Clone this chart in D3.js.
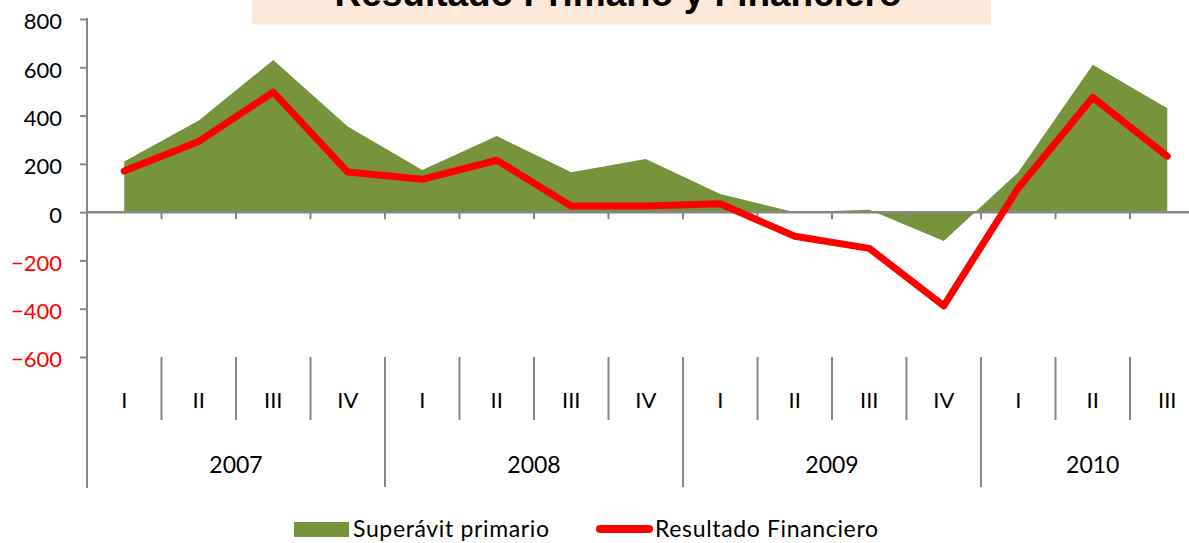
<!DOCTYPE html>
<html><head><meta charset="utf-8">
<script src="https://cdn.jsdelivr.net/npm/d3@7/dist/d3.min.js"></script>
<style>
html,body{margin:0;padding:0;background:#fff;overflow:hidden}
svg{display:block}
</style></head>
<body>
<svg id="c" width="1189" height="543"></svg>
<script>
const title = "Resultado  Primario y Financiero";
const years = ["2007","2008","2009","2010"];
const quarters = ["I","II","III","IV","I","II","III","IV","I","II","III","IV","I","II","III"];
const yearOfPoint = ["2007","2007","2007","2007","2008","2008","2008","2008","2009","2009","2009","2009","2010","2010","2010"];
const superavitPrimario = [210, 380, 630, 355, 175, 315, 165, 220, 75, 0, 10, -120, 165, 610, 430];
const resultadoFinanciero = [170, 293, 497, 166, 136, 215, 25, 25, 35, -100, -150, -388, 100, 475, 232];
const yTicks = [800, 600, 400, 200, 0, -200, -400, -600];
const seriesNames = ["Superávit primario", "Resultado Financiero"];

const svg = d3.select("#c");
const font = "Lato, 'Open Sans', sans-serif";
const gray = "#868686";
const green = "#77933C";
const red = "#FF0000";

const idx = d3.range(quarters.length);
const x = d3.scaleBand().domain(idx).range([87, 87 + 74.5 * 15]).paddingInner(0).paddingOuter(0);
const y = d3.scaleLinear().domain([-600, 800]).range([357, 19]);
const cx = i => x(i) + x.bandwidth() / 2;

// title box
svg.append("rect").attr("x", 252).attr("y", -10).attr("width", 739).attr("height", 34.5).attr("fill", "#FDE9D9");
svg.append("text").attr("x", 618).attr("y", 6).attr("text-anchor", "middle")
  .attr("font-family", "'Liberation Sans', Arial, sans-serif").attr("font-weight", "bold")
  .attr("font-size", 36).attr("textLength", 567).attr("lengthAdjust", "spacingAndGlyphs")
  .attr("fill", "#000").text(title);

// area
const area = d3.area().x((d, i) => cx(i)).y0(y(0)).y1(d => y(d));
svg.append("path").datum(superavitPrimario).attr("d", area).attr("fill", green);

// y axis
const yAxis = d3.axisLeft(y).tickValues(yTicks).tickSize(7).tickFormat(d3.format("d"));
const gy = svg.append("g").attr("transform", "translate(87,0)").call(yAxis);
gy.select(".domain").remove();
gy.selectAll(".tick line").attr("stroke", gray).attr("stroke-width", 2);
gy.selectAll(".tick text").attr("font-family", font).attr("font-size", 22)
  .attr("x", -25).attr("dy", "0.45em").attr("fill", d => d < 0 ? red : "#000");
svg.append("line").attr("x1", 87).attr("x2", 87).attr("y1", 18).attr("y2", 488)
  .attr("stroke", gray).attr("stroke-width", 2);

// zero axis with ticks at band boundaries
const gx = svg.append("g").attr("transform", `translate(0,${y(0)})`);
gx.append("line").attr("x1", 87).attr("x2", 87 + 74.5 * 15).attr("stroke", gray).attr("stroke-width", 2.5);
gx.selectAll(".bt").data(idx.slice(1)).join("line")
  .attr("x1", i => x(i)).attr("x2", i => x(i)).attr("y1", 0).attr("y2", 7)
  .attr("stroke", gray).attr("stroke-width", 2);

// line
const line = d3.line().x((d, i) => cx(i)).y(d => y(d));
svg.append("path").datum(resultadoFinanciero).attr("d", line).attr("fill", "none")
  .attr("stroke", red).attr("stroke-width", 7).attr("stroke-linejoin", "round").attr("stroke-linecap", "round");

// category axis
const cat = svg.append("g");
idx.slice(1).forEach(i => {
  const yearBoundary = yearOfPoint[i] !== yearOfPoint[i - 1];
  cat.append("line").attr("x1", x(i)).attr("x2", x(i)).attr("y1", 357).attr("y2", yearBoundary ? 487 : 420)
    .attr("stroke", gray).attr("stroke-width", 2);
});
cat.append("line").attr("x1", 87 + 74.5 * 15).attr("x2", 87 + 74.5 * 15).attr("y1", 357).attr("y2", 487)
  .attr("stroke", gray).attr("stroke-width", 2);
cat.selectAll(".q").data(idx).join("text")
  .attr("x", i => cx(i)).attr("y", 408).attr("text-anchor", "middle")
  .attr("font-family", font).attr("font-size", 22).attr("fill", "#000").text(i => quarters[i]);
years.forEach(yr => {
  const pts = idx.filter(i => yearOfPoint[i] === yr);
  const x0 = x(pts[0]), x1 = x(pts[pts.length - 1]) + x.bandwidth();
  cat.append("text").attr("x", (x0 + x1) / 2).attr("y", 473).attr("text-anchor", "middle")
    .attr("font-family", font).attr("font-size", 23).attr("fill", "#000").text(yr);
});

// legend
const lg = svg.append("g");
lg.append("rect").attr("x", 294).attr("y", 522).attr("width", 55).attr("height", 15).attr("fill", green);
lg.append("text").attr("x", 353).attr("y", 537).attr("font-family", font).attr("font-size", 23)
  .attr("textLength", 196).attr("lengthAdjust", "spacing").text(seriesNames[0]);
lg.append("line").attr("x1", 600).attr("x2", 649).attr("y1", 529).attr("y2", 529)
  .attr("stroke", red).attr("stroke-width", 8).attr("stroke-linecap", "round");
lg.append("text").attr("x", 655).attr("y", 537).attr("font-family", font).attr("font-size", 23)
  .attr("textLength", 223).attr("lengthAdjust", "spacing").text(seriesNames[1]);
</script>
</body></html>
